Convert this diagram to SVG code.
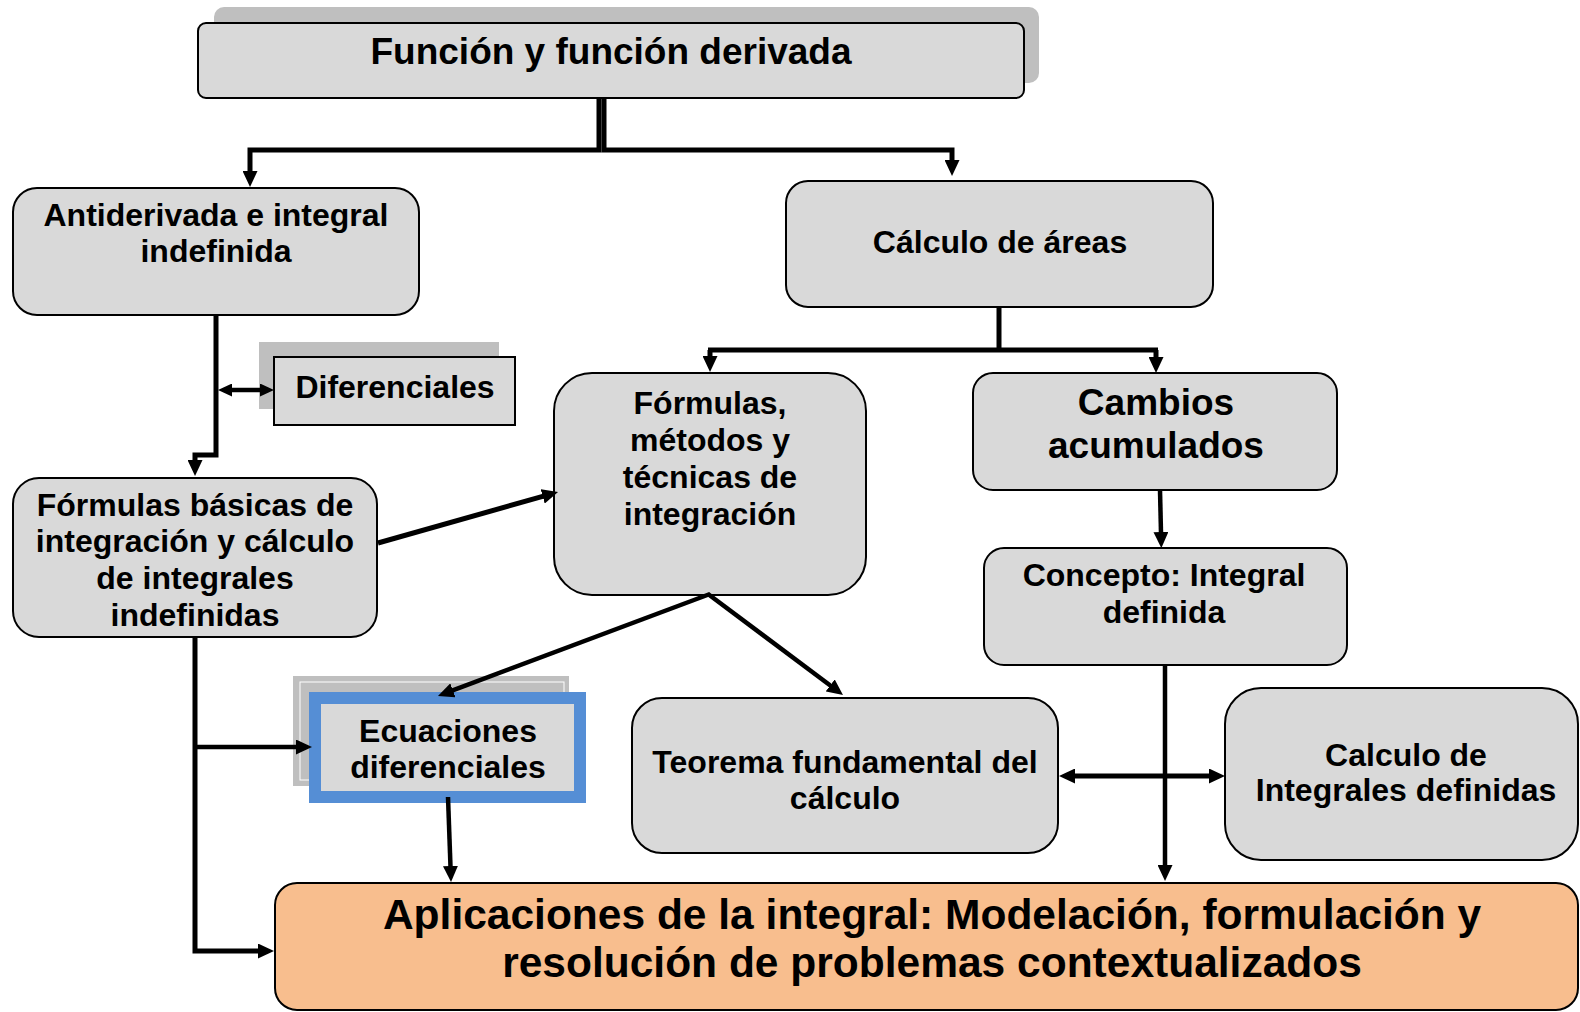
<svg xmlns="http://www.w3.org/2000/svg" width="1580" height="1012" viewBox="0 0 1580 1012">
<style>
.box{fill:#d9d9d9;stroke:#000;stroke-width:2}
.shadow{fill:#bfbfbf}
.t{font-family:"Liberation Sans",Arial,sans-serif;font-weight:bold;font-size:32px;fill:#000;text-anchor:middle}
.c{fill:none;stroke:#000;stroke-width:5;stroke-linejoin:miter}
.c4{fill:none;stroke:#000;stroke-width:4.5}
</style>
<defs>
<marker id="ah" markerUnits="userSpaceOnUse" markerWidth="16" markerHeight="15" viewBox="0 0 16 15" refX="1" refY="7.5" orient="auto-start-reverse">
<path d="M0,0 L16,7.5 L0,15 z" fill="#000"/>
</marker>
<marker id="ahs" markerUnits="userSpaceOnUse" markerWidth="14" markerHeight="13" viewBox="0 0 14 13" refX="1" refY="6.5" orient="auto-start-reverse">
<path d="M0,0 L14,6.5 L0,13 z" fill="#000"/>
</marker>
</defs>
<rect width="1580" height="1012" fill="#fff"/>

<g id="n-funcion">
<rect class="shadow" x="214" y="7" width="825" height="76" rx="10"/>
<rect class="box" x="198" y="23" width="826" height="75" rx="8"/>
<text class="t" x="611" y="64" style="font-size:37px">Función y función derivada</text>
</g>

<g id="n-antiderivada">
<rect class="box" x="13" y="188" width="406" height="127" rx="24"/>
<text class="t" x="216" y="226">Antiderivada e integral<tspan x="216" y="262">indefinida</tspan></text>
</g>

<g id="n-diferenciales">
<rect class="shadow" x="259" y="342" width="240" height="67"/>
<rect class="box" x="274" y="357" width="241" height="68"/>
<text class="t" x="395" y="398">Diferenciales</text>
</g>

<g id="n-calculo-areas">
<rect class="box" x="786" y="181" width="427" height="126" rx="22"/>
<text class="t" x="1000" y="253">Cálculo de áreas</text>
</g>

<g id="n-formulas-metodos">
<rect class="box" x="554" y="373" width="312" height="222" rx="38"/>
<text class="t" x="710" y="414">Fórmulas,<tspan x="710" y="451">métodos y</tspan><tspan x="710" y="488">técnicas de</tspan><tspan x="710" y="525">integración</tspan></text>
</g>

<g id="n-cambios">
<rect class="box" x="973" y="373" width="364" height="117" rx="20"/>
<text class="t" x="1156" y="415" style="font-size:37px">Cambios<tspan x="1156" y="458">acumulados</tspan></text>
</g>

<g id="n-formulas-basicas">
<rect class="box" x="13" y="478" width="364" height="159" rx="26"/>
<text class="t" x="195" y="516">Fórmulas básicas de<tspan x="195" y="552">integración y cálculo</tspan><tspan x="195" y="589">de integrales</tspan><tspan x="195" y="626">indefinidas</tspan></text>
</g>

<g id="n-concepto">
<rect class="box" x="984" y="548" width="363" height="117" rx="20"/>
<text class="t" x="1164" y="586">Concepto: Integral<tspan x="1164" y="623">definida</tspan></text>
</g>

<g id="n-ecuaciones">
<rect class="shadow" x="293" y="676" width="276" height="110"/>
<rect x="300" y="682" width="264" height="98" fill="none" stroke="#fff" stroke-width="1"/>
<rect x="315" y="698" width="265" height="99" fill="#d9d9d9" stroke="#558ed5" stroke-width="12"/>
<text class="t" x="448" y="742">Ecuaciones<tspan x="448" y="778">diferenciales</tspan></text>
</g>

<g id="n-teorema">
<rect class="box" x="632" y="698" width="426" height="155" rx="30"/>
<text class="t" x="845" y="773">Teorema fundamental del<tspan x="845" y="809">cálculo</tspan></text>
</g>

<g id="n-calculo-integrales">
<rect class="box" x="1225" y="688" width="353" height="172" rx="36"/>
<text class="t" x="1406" y="766">Calculo de<tspan x="1406" y="801">Integrales definidas</tspan></text>
</g>

<g id="n-aplicaciones">
<rect x="275" y="883" width="1303" height="127" rx="22" fill="#f8be8e" stroke="#000" stroke-width="2"/>
<text class="t" x="932" y="929" style="font-size:42.5px">Aplicaciones de la integral: Modelación, formulación y<tspan x="932" y="977">resolución de problemas contextualizados</tspan></text>
</g>

<g id="connectors">
<path class="c" d="M599 98 V150 H250 V172" marker-end="url(#ah)"/>
<path class="c" d="M604 98 V150 H952 V161" marker-end="url(#ah)"/>
<path class="c" d="M999 307 V350"/>
<path class="c" d="M708 350 H1158"/>
<path class="c" d="M710 350 V357" marker-end="url(#ah)"/>
<path class="c" d="M1156 350 V358" marker-end="url(#ah)"/>
<path class="c" d="M216 315 V455 H195 V461" marker-end="url(#ah)"/>
<path class="c4" d="M231 390 H261" marker-start="url(#ahs)" marker-end="url(#ahs)"/>
<path class="c" d="M378 543 L543.6 496.1" marker-end="url(#ah)"/>
<path class="c" d="M195 637 V951 H259" marker-end="url(#ah)"/>
<path class="c4" d="M195 747 H297" marker-end="url(#ah)"/>
<path class="c4" d="M710 594 L452 690.7" marker-end="url(#ah)"/>
<path class="c4" d="M708 594 L831 686" marker-end="url(#ah)"/>
<path class="c4" d="M448 797 L450.5 867" marker-end="url(#ah)"/>
<path class="c4" d="M1160 490 L1161 533" marker-end="url(#ah)"/>
<path class="c4" d="M1165 665 V866" marker-end="url(#ah)"/>
<path class="c" d="M1074 776 H1210" marker-start="url(#ah)" marker-end="url(#ah)"/>
</g>
</svg>
